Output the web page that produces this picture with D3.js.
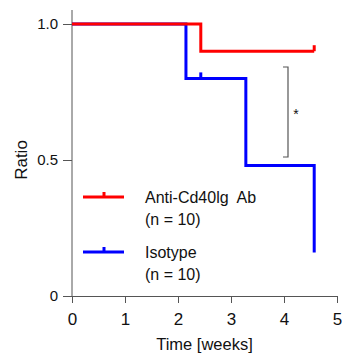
<!DOCTYPE html>
<html>
<head>
<meta charset="utf-8">
<script src="https://cdn.jsdelivr.net/npm/d3@7"></script>
<style>
  body { margin: 0; background: #fff; }
  text { font-family: "Liberation Sans", Arial, sans-serif; fill: #111; }
</style>
</head>
<body>
<div id="chart"></div>
<script>
// survival curves (step function points: time, ratio)
var antiTimes = [0, 2.43, 4.57];
var antiRatio = [1.0, 0.9, 0.9];
var antiCensor = [[4.57, 0.9]];

var isoTimes = [0, 2.15, 3.28, 4.57];
var isoRatio = [1.0, 0.8, 0.48, 0.16];
var isoCensor = [[2.43, 0.8]];

var xTicks = [0, 1, 2, 3, 4, 5];
var yTicks = [0, 0.5, 1.0];
var yTickLabels = ["0", "0.5", "1.0"];

var seriesNames = ["Anti-Cd40lg  Ab", "Isotype"];
var seriesN = ["(n = 10)", "(n = 10)"];
var seriesColors = ["#ff0000", "#0000ff"];

var width = 342, height = 355;

var svg = d3.select("#chart").append("svg")
    .attr("width", width)
    .attr("height", height);

var x = d3.scaleLinear().domain([0, 5]).range([72, 337]);
var y = d3.scaleLinear().domain([0, 1]).range([296, 24]);

// axes
var xAxis = svg.append("g")
    .attr("transform", "translate(0," + y(0) + ")")
    .call(d3.axisBottom(x).tickValues(xTicks).tickSize(7).tickSizeOuter(0).tickFormat(d3.format("d")));
xAxis.select(".domain").attr("stroke", "#555");
xAxis.selectAll(".tick line").attr("stroke", "#555");
xAxis.selectAll(".tick text").attr("font-size", 17).attr("y", 12).attr("dy", "1em")
    .attr("font-family", "Liberation Sans, Arial, sans-serif").attr("fill", "#111");

var yAxis = svg.append("g")
    .attr("transform", "translate(" + x(0) + ",0)")
    .call(d3.axisLeft(y).tickValues(yTicks).tickSize(9).tickSizeOuter(0)
        .tickFormat(function(d, i) { return yTickLabels[i]; }));
yAxis.select(".domain").attr("d", "M0," + 10 + "V" + y(0)).attr("stroke", "#555");
yAxis.selectAll(".tick line").attr("stroke", "#555");
yAxis.selectAll(".tick text").attr("font-size", 15).attr("x", -14)
    .attr("font-family", "Liberation Sans, Arial, sans-serif").attr("fill", "#111");

svg.append("text")
    .attr("transform", "translate(27," + y(0.5) + ") rotate(-90)")
    .attr("text-anchor", "middle")
    .attr("font-size", 17)
    .text("Ratio");

svg.append("text")
    .attr("x", (x(0) + x(5)) / 2)
    .attr("y", 350)
    .attr("text-anchor", "middle")
    .attr("font-size", 16.5)
    .text("Time [weeks]");

// step lines
var line = d3.line()
    .x(function(d) { return x(d[0]); })
    .y(function(d) { return y(d[1]); })
    .curve(d3.curveStepAfter);

function drawCurve(times, ratios, censors, color) {
    var pts = times.map(function(t, i) { return [t, ratios[i]]; });
    svg.append("path")
        .datum(pts)
        .attr("d", line)
        .attr("fill", "none")
        .attr("stroke", color)
        .attr("stroke-width", 3);
    svg.selectAll(null)
        .data(censors)
        .enter().append("line")
        .attr("x1", function(d) { return x(d[0]); })
        .attr("x2", function(d) { return x(d[0]); })
        .attr("y1", function(d) { return y(d[1]); })
        .attr("y2", function(d) { return y(d[1]) - 6; })
        .attr("stroke", color)
        .attr("stroke-width", 3);
}

drawCurve(isoTimes, isoRatio, isoCensor, seriesColors[1]);
drawCurve(antiTimes, antiRatio, antiCensor, seriesColors[0]);

// significance bracket
var bx = 288;
svg.append("path")
    .attr("d", "M" + (bx - 5) + "," + 67 + "H" + bx + "V" + 157 + "H" + (bx - 5))
    .attr("fill", "none")
    .attr("stroke", "#555")
    .attr("stroke-width", 1.2);
svg.append("text")
    .attr("x", bx + 8)
    .attr("y", 119)
    .attr("text-anchor", "middle")
    .attr("font-size", 14)
    .text("*");

// legend
var legY = [197, 252];
seriesNames.forEach(function(name, i) {
    var g = svg.append("g");
    g.append("line")
        .attr("x1", 83).attr("x2", 124)
        .attr("y1", legY[i]).attr("y2", legY[i])
        .attr("stroke", seriesColors[i]).attr("stroke-width", 3);
    g.append("line")
        .attr("x1", 104).attr("x2", 104)
        .attr("y1", legY[i]).attr("y2", legY[i] - 5)
        .attr("stroke", seriesColors[i]).attr("stroke-width", 3);
    g.append("text")
        .attr("x", 145).attr("y", legY[i] + 6)
        .attr("font-size", 16)
        .style("white-space", "pre")
        .text(name);
    g.append("text")
        .attr("x", 145).attr("y", legY[i] + 28)
        .attr("font-size", 16)
        .text(seriesN[i]);
});
</script>
</body>
</html>
